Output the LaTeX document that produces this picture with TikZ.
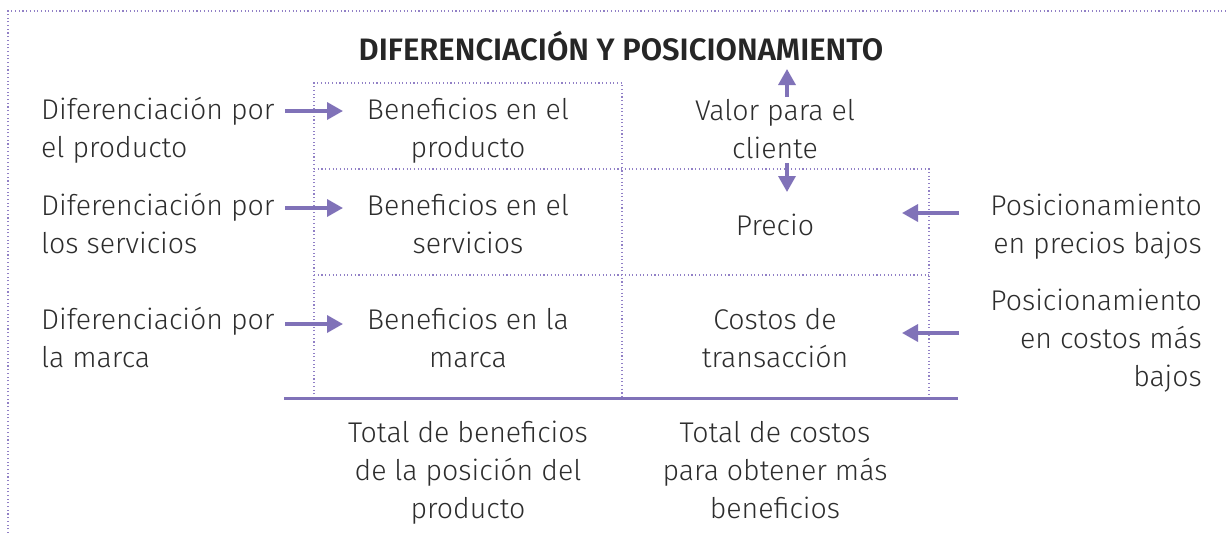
\documentclass[tikz,border=0pt]{standalone}
\usepackage{fontspec}
\setmainfont{Fira Sans}[UprightFont=* Light,BoldFont=* SemiBold]
\usetikzlibrary{arrows.meta}
\definecolor{morado}{RGB}{128,114,184}
\definecolor{punteado}{RGB}{145,128,198}
\definecolor{texto}{RGB}{45,45,45}
\begin{document}
\begin{tikzpicture}[x=1pt,y=-1pt,font=\fontsize{28.5}{38}\selectfont,text=texto,
  celda/.style={draw=punteado,line width=1.1pt,dash pattern=on 1.1pt off 2.6pt},
  flecha/.style={draw=morado,line width=3.4pt,-{Triangle[length=16pt,width=17pt]}},
  etq/.style={inner sep=0pt,anchor=base,align=center}]
\useasboundingbox (0,0) rectangle (1227,533);
% marco y cuadro
\draw[celda] (8,533)--(8,11)--(1227,11);
\draw[celda] (314,398)--(314,83)--(622,83)--(622,398);
\draw[celda] (314,169)--(929,169)--(929,398);
\draw[celda] (314,275)--(929,275);
\draw[morado,line width=3pt] (284,398)--(958,398);
% textos (base = ultima linea)
\node[etq,font=\fontsize{31}{38}\selectfont\bfseries,text=black!85] (titulo) at (621,60) {DIFERENCIACIÓN Y POSICIONAMIENTO};
\node[etq,anchor=base west,align=left] (dp1) at (41,157) {Diferenciación por\\el producto};
\node[etq,anchor=base west,align=left] (dp2) at (41,253) {Diferenciación por\\los servicios};
\node[etq,anchor=base west,align=left] (dp3) at (41,367) {Diferenciación por\\la marca};
\node[etq] (bp1) at (468,157) {Beneficios en el\\producto};
\node[etq] (bp2) at (468,253) {Beneficios en el\\servicios};
\node[etq] (bp3) at (468,367) {Beneficios en la\\marca};
\node[etq] (valor) at (775,158) {Valor para el\\cliente};
\node[etq] (precio) at (775,235) {Precio};
\node[etq] (costos) at (775,367) {Costos de\\transacción};
\node[etq,anchor=base east,align=right] (pp1) at (1202,253) {Posicionamiento\\en precios bajos};
\node[etq,anchor=base east,align=right] (pp2) at (1202,386) {Posicionamiento\\en costos más\\bajos};
\node[etq] (tb) at (468,518) {Total de beneficios\\de la posición del\\producto};
\node[etq] (tc) at (775,518) {Total de costos\\para obtener más\\beneficios};
% flechas
\coordinate (d1) at (285,111); \coordinate (b1) at (343,111);
\coordinate (d2) at (285,208); \coordinate (b2) at (343,208);
\coordinate (d3) at (285,324); \coordinate (b3) at (343,324);
\coordinate (v1) at (787,97);  \coordinate (v2) at (787,69);
\coordinate (v3) at (787,163); \coordinate (v4) at (787,192);
\coordinate (p1) at (959,213); \coordinate (p2) at (902,213);
\coordinate (c1) at (959,333); \coordinate (c2) at (902,333);
\draw[flecha] (d1)--(b1);
\draw[flecha] (d2)--(b2);
\draw[flecha] (d3)--(b3);
\draw[flecha] (v1)--(v2);
\draw[flecha] (v3)--(v4);
\draw[flecha] (p1)--(p2);
\draw[flecha] (c1)--(c2);
\end{tikzpicture}
\end{document}
